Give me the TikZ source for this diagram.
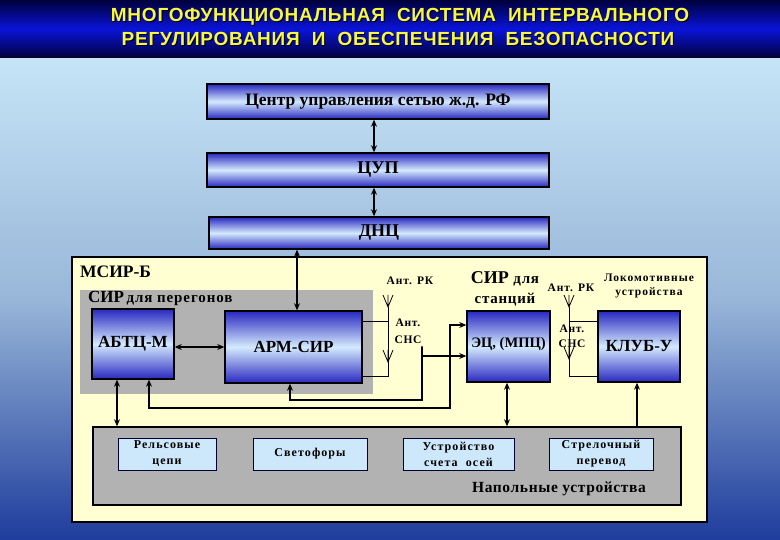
\documentclass[tikz,border=0pt]{standalone}
\usepackage{fontspec}
\setmainfont{Liberation Serif}
\newfontfamily\titlefont{Liberation Sans}
\usetikzlibrary{arrows.meta,calc}
\definecolor{hdark}{HTML}{00003C}
\definecolor{hmid}{HTML}{0A14D8}
\definecolor{bgtop}{HTML}{C6E4F6}
\definecolor{bgmid}{HTML}{98B6D8}
\definecolor{bgbot}{HTML}{1E3C9C}
\definecolor{ttl}{HTML}{F8F840}
\definecolor{bdark}{HTML}{2828C0}
\definecolor{blight}{HTML}{D4EAFE}
\definecolor{yel}{HTML}{FFFFD2}
\definecolor{grayreg}{HTML}{B2B2B2}
\definecolor{inbox}{HTML}{CCE8FA}
\newcommand\lsp[1]{\addfontfeature{LetterSpace=#1}}
\tikzset{
  bluebox/.style={draw=black, line width=1.5pt, top color=bdark, bottom color=bdark, middle color=blight, inner sep=0pt, font=\bfseries, align=center},
  devbox/.style={draw=black!80!blue, line width=0.8pt, fill=inbox, inner sep=0pt, font=\fontsize{12}{16}\selectfont\bfseries\lsp{9}, align=center, minimum height=32pt},
  conn/.style={line width=1.6pt, draw=black},
  thin/.style={line width=0.8pt, draw=black},
  lbl/.style={inner sep=0pt, align=center, font=\fontsize{11.5}{16}\selectfont\bfseries\lsp{8}},
  antsym/.pic={\draw[line width=0.8pt] (0,0) -- (0,-12) (-5,-12) -- (0,0) -- (5,-12);},
  ttlstyle/.style={inner sep=0pt, font=\titlefont\fontsize{19}{21}\selectfont\bfseries\lsp{4}}
}
\begin{document}
\begin{tikzpicture}[x=1pt,y=-1pt,>={Stealth[length=7pt,width=6pt]}]
\useasboundingbox (0,0) rectangle (780,540);
% background
\shade[top color=bgtop, bottom color=bgmid] (0,58) rectangle (780,300);
\shade[top color=bgmid, bottom color=bgbot] (0,300) rectangle (780,540);
\shade[top color=hdark, bottom color=hdark, middle color=hmid] (0,0) rectangle (780,58);
\fill[black!80!blue] (0,56) rectangle (780,58);
% title
\node[ttlstyle, text=black] (t1s) at (401,18) {МНОГОФУНКЦИОНАЛЬНАЯ\ \ СИСТЕМА\ \ ИНТЕРВАЛЬНОГО};
\node[ttlstyle, text=ttl] (t1) at (400,17) {МНОГОФУНКЦИОНАЛЬНАЯ\ \ СИСТЕМА\ \ ИНТЕРВАЛЬНОГО};
\node[ttlstyle, text=black] (t2s) at (399,40) {РЕГУЛИРОВАНИЯ\ \ И\ \ ОБЕСПЕЧЕНИЯ\ \ БЕЗОПАСНОСТИ};
\node[ttlstyle, text=ttl] (t2) at (398,39) {РЕГУЛИРОВАНИЯ\ \ И\ \ ОБЕСПЕЧЕНИЯ\ \ БЕЗОПАСНОСТИ};
% top boxes
\node[bluebox, minimum width=342pt, minimum height=35pt, font=\fontsize{17.5}{19}\selectfont\bfseries] (ctr) at (378,101.5) {Центр управления сетью ж.д. РФ};
\node[bluebox, minimum width=342pt, minimum height=34pt, font=\fontsize{18}{19}\selectfont\bfseries] (cup) at (378,170) {ЦУП};
\node[bluebox, minimum width=340pt, minimum height=32pt, font=\fontsize{18}{19}\selectfont\bfseries] (dnc) at (379,233) {ДНЦ};
% МСИР-Б area
\node[draw=black, line width=1.2pt, fill=yel, minimum width=635pt, minimum height=265pt, inner sep=0pt] (msir) at (389.5,389.5) {};
\node[fill=grayreg, minimum width=293pt, minimum height=104pt, inner sep=0pt] (sirp) at (226.5,342) {};
\node[anchor=west, inner sep=0pt, font=\fontsize{17.5}{19}\selectfont\bfseries] (msirl) at (80,272) {МСИР-Б};
\node[anchor=west, inner sep=0pt, font=\bfseries] (sirpl) at (88,298) {{\fontsize{17}{19}\selectfont СИР} {\fontsize{15}{17}\selectfont\lsp{6}для перегонов}};
% unit boxes
\node[bluebox, minimum width=82pt, minimum height=70pt, font=\fontsize{17}{19}\selectfont\bfseries] (abtc) at (133,344) {АБТЦ-М};
\node[bluebox, minimum width=137pt, minimum height=72pt, font=\fontsize{17}{19}\selectfont\bfseries] (arm) at (293.5,347) {АРМ-СИР};
\node[bluebox, minimum width=83pt, minimum height=71pt, font=\fontsize{14.5}{16}\selectfont\bfseries] (ec) at (508.5,346.5) {\raisebox{8pt}{ЭЦ, (МПЦ)}};
\node[bluebox, minimum width=82pt, minimum height=71pt, font=\fontsize{17}{19}\selectfont\bfseries] (klub) at (639,346.5) {КЛУБ-У};
% labels
\node[lbl] (antrk1) at (410,281) {Ант. РК};
\node[lbl, font=\fontsize{11.5}{17}\selectfont\bfseries\lsp{6}] (antsns1) at (408,331) {Ант.\\СНС};
\node[lbl, font=\fontsize{15}{20}\selectfont\bfseries\lsp{5}] (sirs) at (505,289) {{\fontsize{18}{20}\selectfont\lsp{0}СИР} для\\станций};
\node[lbl] (antrk2) at (571,288) {Ант. РК};
\node[lbl, font=\fontsize{11.5}{14}\selectfont\bfseries\lsp{9}] (lok) at (649,286) {Локомотивные\\устройства};
\node[lbl, font=\fontsize{11.5}{15}\selectfont\bfseries\lsp{6}] (antsns2) at (572,336.5) {Ант.\\СНС};
% field devices
\node[draw=black, line width=1.5pt, fill=grayreg, minimum width=588pt, minimum height=78pt, inner sep=0pt] (napol) at (387,466) {};
\node[devbox, minimum width=98pt] (rels) at (167,454) {Рельсовые\\цепи};
\node[devbox, minimum width=114pt] (svet) at (310,454) {Светофоры};
\node[devbox, minimum width=111pt] (ustr) at (458.5,454) {Устройство\\счета\ \ осей};
\node[devbox, minimum width=104pt] (strel) at (601,454) {Стрелочный\\перевод};
\node[inner sep=0pt, font=\fontsize{15.5}{17}\selectfont\bfseries\lsp{4}] (napl) at (559,489) {Напольные устройства};
% antennas
\coordinate (a1) at (388,307);
\coordinate (a2) at (388,362);
\coordinate (a3) at (569,307);
\coordinate (a4) at (569,359);
\pic at (a1) {antsym};
\pic at (a2) {antsym};
\pic at (a3) {antsym};
\pic at (a4) {antsym};
\draw[thin] ([yshift=-29pt]arm.east) -| (a1);
\draw[thin] ([yshift=26pt]arm.east) -| (a2);
\draw[thin] ([yshift=-29.5pt]klub.west) -| (a3);
\draw[thin] ([yshift=25.5pt]klub.west) -| (a4);
% connectors
\draw[conn,<->] ([xshift=-4pt]ctr.south) -- ([xshift=-4pt]cup.north);
\draw[conn,<->] ([xshift=-4pt]cup.south) -- ([xshift=-5pt]dnc.north);
\draw[conn,<->] ([xshift=3.5pt]arm.north) coordinate (p1) -- (dnc.south -| p1);
\draw[conn,<->] ([yshift=-3pt]abtc.east) coordinate (p2) -- (p2 -| arm.west);
\draw[conn,<->] ([xshift=-16pt]abtc.south) coordinate (p3) -- (napol.north -| p3);
\draw[conn,<->] ([xshift=-3.5pt]arm.south) coordinate (p4) -- ++(0,16) -| ([xshift=-44pt]ec.west) coordinate (p5) |- ([yshift=-9.5pt]ec.west);
\draw[conn,<->] ([xshift=16pt]abtc.south) coordinate (p6) |- (450,408) coordinate (p7) |- ([yshift=21.5pt]ec.west);
\draw[conn,<->] ([xshift=-1.5pt]ec.south) coordinate (p8) -- (napol.north -| p8);
\draw[conn,->] ([xshift=-2pt]klub.south |- napol.north) coordinate (p9) -- ([xshift=-2pt]klub.south);
\end{tikzpicture}
\end{document}
